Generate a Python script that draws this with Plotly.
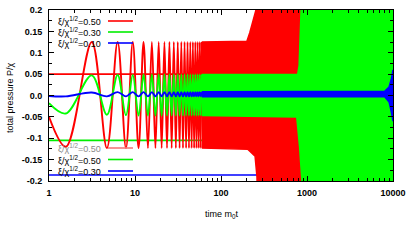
import plotly.graph_objects as go

# ---- data ----
# sparse (resolved) oscillation turning points, shared time stamps
osc_time = [1.0, 1.57, 3.14, 4.71, 6.28, 7.85, 9.42, 11.0, 12.57, 14.14, 15.71,
            17.28, 18.85, 20.42, 21.99, 23.56, 25.13, 26.7, 28.27, 29.85, 31.42,
            32.99, 34.56, 36.13, 37.7, 39.27, 40.84, 42.41, 43.98, 45.55, 47.12,
            48.69, 50.27, 51.84, 53.41, 54.98, 56.55, 58.12, 59.69]
red_vals = [-0.05, -0.12, 0.125, -0.123, 0.125, -0.123, 0.125, -0.123, 0.125, -0.123, 0.125,
            -0.123, 0.125, -0.123, 0.125, -0.123, 0.125, -0.123, 0.125, -0.123, 0.125,
            -0.123, 0.125, -0.123, 0.125, -0.123, 0.125, -0.123, 0.125, -0.123, 0.125,
            -0.123, 0.125, -0.123, 0.125, -0.123, 0.125, -0.123, 0.125]
green_vals = [-0.018, -0.042, 0.047, -0.045, 0.048, -0.046, 0.048, -0.047, 0.049, -0.047, 0.049,
              -0.047, 0.049, -0.047, 0.049, -0.047, 0.049, -0.047, 0.049, -0.047, 0.049,
              -0.047, 0.049, -0.047, 0.049, -0.047, 0.049, -0.047, 0.049, -0.047, 0.049,
              -0.047, 0.049, -0.047, 0.049, -0.047, 0.049, -0.047, 0.049]
blue_vals = [-0.001, -0.002, 0.007, -0.002, 0.008, -0.002, 0.008, -0.002, 0.008, -0.002, 0.008,
             -0.002, 0.008, -0.002, 0.008, -0.002, 0.008, -0.002, 0.008, -0.002, 0.008,
             -0.002, 0.008, -0.002, 0.008, -0.002, 0.008, -0.002, 0.008, -0.002, 0.008,
             -0.002, 0.008, -0.002, 0.008, -0.002, 0.008, -0.002, 0.008]

# envelopes of the unresolved (dense) oscillation
red_hi_t = [59.69, 200, 216, 242, 255, 262, 880]
red_hi = [0.125, 0.127, 0.147, 0.182, 0.2, 0.3, 0.3]
red_lo_t = [59.69, 206, 249, 262, 270, 880]
red_lo = [-0.123, -0.126, -0.142, -0.19, -0.3, -0.3]

green_hi_t = [59.69, 780, 810, 840, 873, 890, 10000]
green_hi = [0.049, 0.05, 0.07, 0.13, 0.2, 0.3, 0.3]
green_lo_t = [59.69, 760, 775, 820, 873, 890, 10000]
green_lo = [-0.047, -0.05, -0.056, -0.12, -0.2, -0.3, -0.3]

blue_hi_t = [59.69, 8000, 9000, 9600, 10000]
blue_hi = [0.009, 0.01, 0.02, 0.04, 0.06]
blue_lo_t = [59.69, 8000, 9000, 9600, 10000]
blue_lo = [-0.003, -0.003, -0.015, -0.04, -0.06]

# constant reference levels
level_values = [0.05, -0.105, -0.186]
level_span = [1, 10000]

labels_top = ["ξ/χ<sup>1/2</sup>=0.50", "ξ/χ<sup>1/2</sup>=0.30", "ξ/χ<sup>1/2</sup>=0.10"]
labels_bottom = ["ξ/χ<sup>1/2</sup>=0.50", "ξ/χ<sup>1/2</sup>=0.50", "ξ/χ<sup>1/2</sup>=0.30"]
x_tickvals = [1, 10, 100, 1000, 10000]
x_ticktext = ["1", "10", "100", "1000", "10000"]
y_tickvals = [0.2, 0.15, 0.1, 0.05, 0.0, -0.05, -0.1, -0.15, -0.2]
y_ticktext = ["0.2", "0.15", "0.1", "0.05", "0.0", "-0.05", "-0.1", "-0.15", "-0.2"]

RED, GREEN, BLUE = "#ff0000", "#00ee00", "#0000ff"
colors = [RED, GREEN, BLUE]
FONT = "Liberation Sans"

fig = go.Figure()

# horizontal levels (drawn underneath)
for v, c in zip(level_values, colors):
    fig.add_trace(go.Scatter(x=level_span, y=[v, v], mode="lines",
                             line=dict(color=c, width=1.6), hoverinfo="skip"))

series = [(red_vals, red_hi_t, red_hi, red_lo_t, red_lo, RED),
          (green_vals, green_hi_t, green_hi, green_lo_t, green_lo, "#00ff00"),
          (blue_vals, blue_hi_t, blue_hi, blue_lo_t, blue_lo, BLUE)]
for vals, ht, hv, lt, lv, c in series:
    fig.add_trace(go.Scatter(x=osc_time, y=vals, mode="lines",
                             line=dict(color=c, width=1.9, shape="spline", smoothing=1.0),
                             hoverinfo="skip"))
    fig.add_trace(go.Scatter(x=ht + lt[::-1], y=hv + lv[::-1], mode="lines",
                             fill="toself", fillcolor=c,
                             line=dict(color=c, width=1.5), hoverinfo="skip"))

W, H = 407, 244
PL, PR, PT, PB = 49, 393, 10, 181     # plot area in window pixels
L, R, T, B = PL, W - PR, PT, H - PB
pw, ph = PR - PL, PB - PT


def px(x):
    return (x - PL) / pw


def py(y):
    return (PB - y) / ph


annotations = []
shapes = []
top_rows = [21, 32, 43]
bot_rows = [148, 159.5, 171]
bot_text_colors = ["#8a8a8a", "black", "black"]
bot_line_colors = ["#f47a7a", GREEN, BLUE]
for i in range(3):
    annotations.append(dict(x=px(56), y=py(top_rows[i]), xref="paper", yref="paper",
                            text=labels_top[i], showarrow=False, xanchor="left",
                            yanchor="middle", font=dict(family=FONT, size=9, color="black")))
    shapes.append(dict(type="line", xref="paper", yref="paper", x0=px(108), x1=px(133),
                       y0=py(top_rows[i]), y1=py(top_rows[i]),
                       line=dict(color=colors[i], width=1.6)))
    annotations.append(dict(x=px(56), y=py(bot_rows[i]), xref="paper", yref="paper",
                            text=labels_bottom[i], showarrow=False, xanchor="left",
                            yanchor="middle",
                            font=dict(family=FONT, size=9, color=bot_text_colors[i])))
    shapes.append(dict(type="line", xref="paper", yref="paper", x0=px(108), x1=px(133),
                       y0=py(bot_rows[i]), y1=py(bot_rows[i]),
                       line=dict(color=bot_line_colors[i], width=1.6)))

annotations.append(dict(x=px(10), y=py(98), xref="paper", yref="paper",
                        text="total pressure P/χ", textangle=-90, showarrow=False,
                        xanchor="center", yanchor="middle",
                        font=dict(family=FONT, size=9, color="black")))
annotations.append(dict(x=px(222), y=py(215), xref="paper", yref="paper",
                        text="time m<sub>0</sub>t", showarrow=False,
                        xanchor="center", yanchor="middle",
                        font=dict(family=FONT, size=9, color="black")))

fig.update_layout(
    width=W, height=H, margin=dict(l=L, r=R, t=T, b=B, pad=0),
    paper_bgcolor="white", plot_bgcolor="white", showlegend=False,
    annotations=annotations, shapes=shapes,
    font=dict(family=FONT, size=9, color="black"),
)
tickfont = dict(family=FONT, size=9, color="black", weight="bold")
fig.update_xaxes(type="log", range=[0, 4], tickvals=x_tickvals, ticktext=x_ticktext,
                 automargin=False,
                 showgrid=False, zeroline=False, showline=True, linecolor="black",
                 linewidth=1, mirror="allticks", ticks="inside", ticklen=5,
                 tickcolor="black", ticklabelstandoff=3,
                 minor=dict(ticks="inside", ticklen=3, tickcolor="black", dtick="D1",
                            showgrid=False),
                 tickfont=tickfont)
fig.update_yaxes(range=[-0.2, 0.2], tickvals=y_tickvals, ticktext=y_ticktext,
                 automargin=False,
                 showgrid=False, zeroline=False, showline=True, linecolor="black",
                 linewidth=1, mirror="allticks", ticks="inside", ticklen=5,
                 tickcolor="black", ticklabelstandoff=4,
                 minor=dict(ticks="inside", ticklen=3, tickcolor="black", dtick=0.025,
                            showgrid=False),
                 tickfont=tickfont)

fig.write_html("out.html",
               config={"displayModeBar": False, "staticPlot": True},
               post_script="document.body.style.margin='0';"
                           "document.body.style.overflow='hidden';")
